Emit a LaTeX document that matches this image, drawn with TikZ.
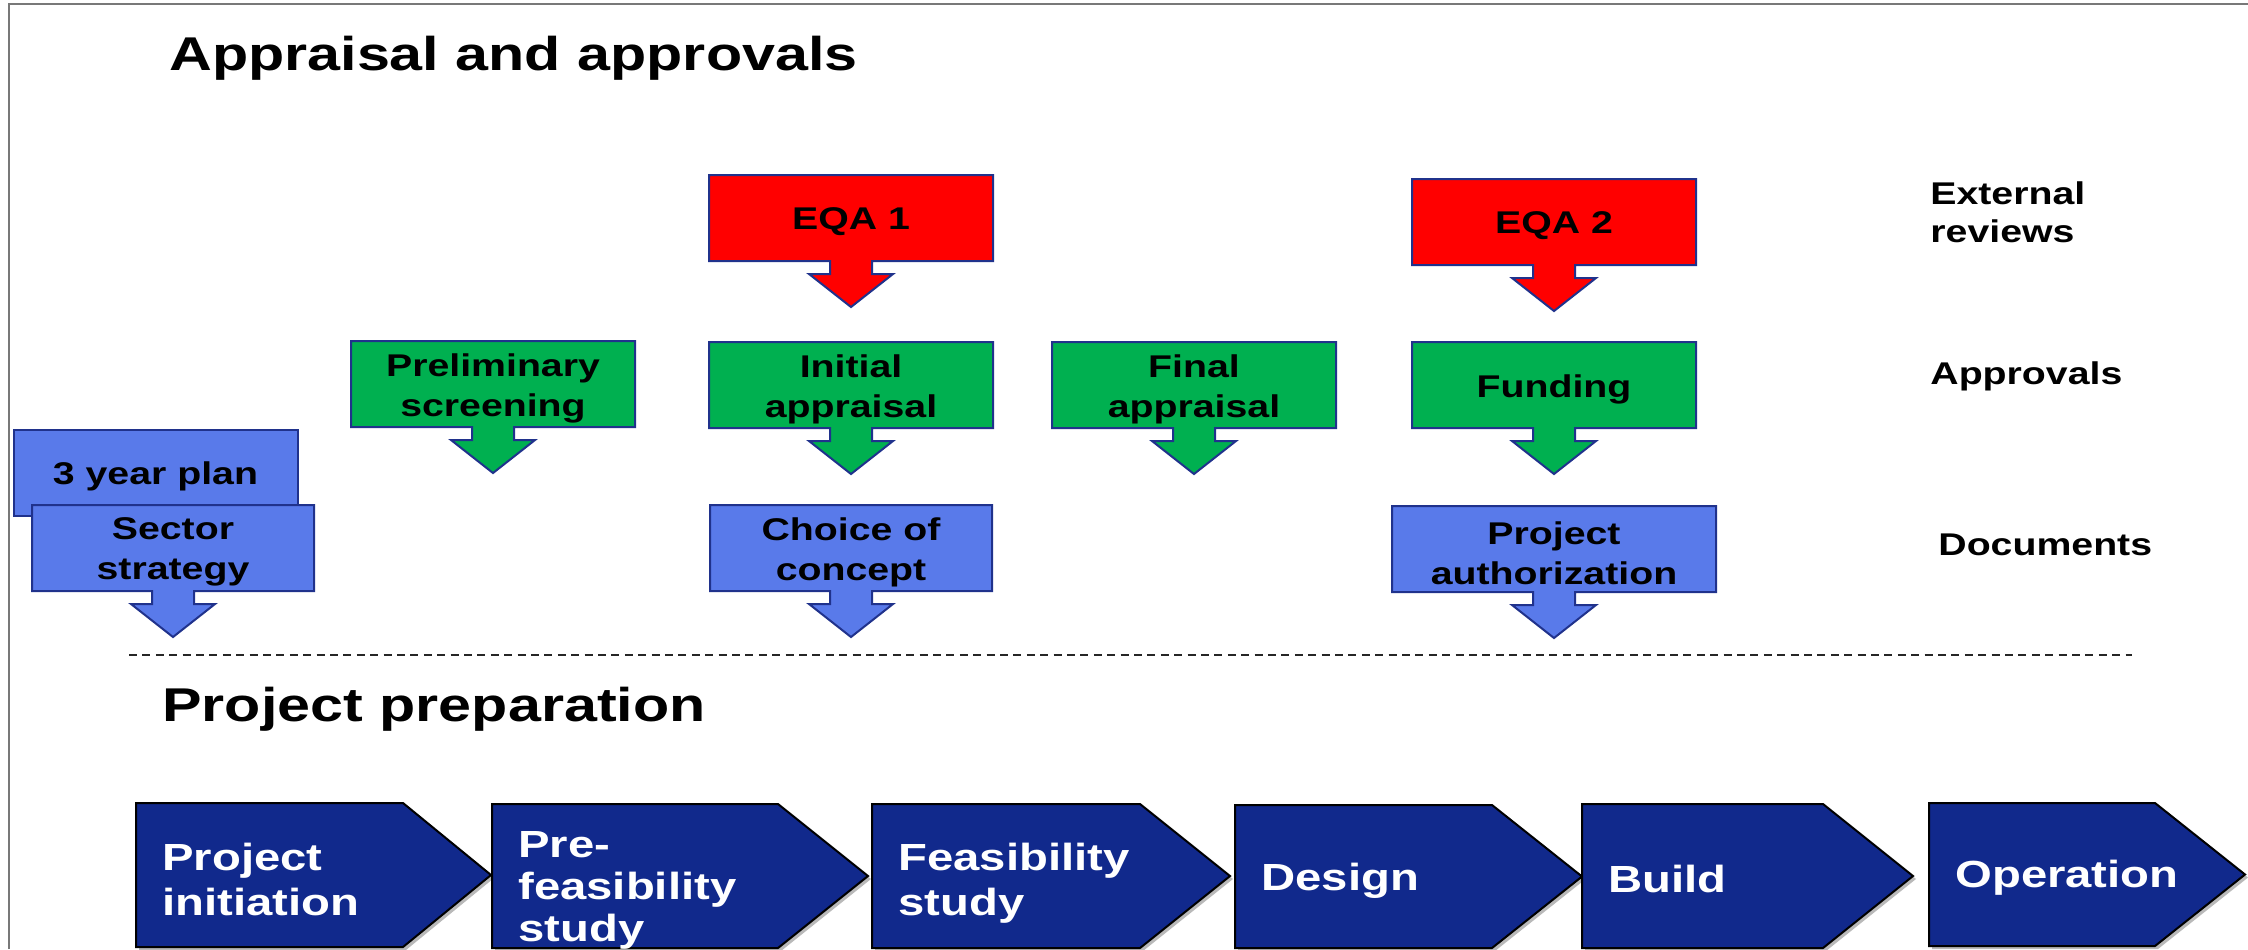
\documentclass[tikz,border=0pt]{standalone}
\usepackage{fontspec}
\setmainfont{Liberation Sans}[FakeStretch=1.25]
\usetikzlibrary{calc}
\definecolor{eqared}{RGB}{255,0,0}
\definecolor{apgreen}{RGB}{0,176,80}
\definecolor{docblue}{RGB}{89,122,234}
\definecolor{edgeblue}{RGB}{32,50,140}
\definecolor{chevblue}{RGB}{17,41,140}
\definecolor{framegray}{RGB}{120,120,120}
% box with a down arrow: name, cx, cy, half width, fill, text
\newcommand{\abox}[6]{%
  \filldraw[fill=#5, draw=edgeblue, line width=1pt, line join=miter]
    ({#2-#4},{#3-43}) -- ({#2+#4},{#3-43}) -- ({#2+#4},{#3+43})
    -- ({#2+21},{#3+43}) -- ({#2+21},{#3+56}) -- ({#2+42},{#3+56})
    -- (#2,{#3+89}) -- ({#2-42},{#3+56}) -- ({#2-21},{#3+56})
    -- ({#2-21},{#3+43}) -- ({#2-#4},{#3+43}) -- cycle;
  \node[boxtext] (#1) at (#2,{#3+4}) {#6};}
% chevron: name, left, rect right, tip, top, bottom, extra node options, text
\newcommand{\chevron}[8]{%
  \fill[gray!55] ({#2+3},{#5+3}) -- ({#3+3},{#5+3}) -- ({#4+3},{(#5+#6)/2+3})
    -- ({#3+3},{#6+3}) -- ({#2+3},{#6+3}) -- cycle;
  \filldraw[chev] (#2,#5) -- (#3,#5) -- (#4,{(#5+#6)/2}) -- (#3,#6) -- (#2,#6) -- cycle;
  \node[chevtext, #7] (#1) at ({#2+26},{(#5+#6)/2}) {#8};}
\begin{document}
\begin{tikzpicture}[x=0.5pt,y=-0.5pt,
  boxtext/.style={inner sep=0pt, align=center, text=black,
    font=\fontsize{15.7}{20}\selectfont\bfseries},
  lbl/.style={inner sep=0pt, align=left, anchor=west,
    font=\fontsize{15.7}{19}\selectfont\bfseries},
  ttl/.style={inner sep=0pt, anchor=base west,
    font=\fontsize{23.7}{28}\selectfont\bfseries},
  chev/.style={fill=chevblue, draw=black, line width=1pt, line join=miter},
  chevtext/.style={inner sep=0pt, align=left, anchor=west, text=white,
    font=\fontsize{18.9}{22.5}\selectfont\bfseries}]
\useasboundingbox (0,0) rectangle (2248,949);
\fill[white] (0,0) rectangle (2248,949);
% frame
\coordinate (fbl) at (9,949);
\coordinate (ftl) at (9,4);
\coordinate (ftr) at (2248,4);
\draw[framegray, line width=1.2pt] (fbl) -- (ftl) -- (ftr);
% titles
\node[ttl] (t1) at (169,70) {Appraisal and approvals};
\node[ttl] (t2) at (162,721) {Project preparation};
% right labels
\node[lbl] (lext) at (1930,212) {External\\reviews};
\node[lbl] (lapp) at (1930,376) {Approvals};
\node[lbl] (ldoc) at (1938,545) {Documents};
% external reviews
\abox{eqa1}{851}{218}{142}{eqared}{EQA 1}
\abox{eqa2}{1554}{222}{142}{eqared}{EQA 2}
% approvals
\abox{prelim}{493}{384}{142}{apgreen}{Preliminary\\screening}
\abox{initial}{851}{385}{142}{apgreen}{Initial\\appraisal}
\abox{final}{1194}{385}{142}{apgreen}{Final\\appraisal}
\abox{funding}{1554}{385}{142}{apgreen}{Funding}
% documents
\node[boxtext, fill=docblue, draw=edgeblue, line width=1pt,
  minimum width=142pt, minimum height=43pt, text depth=0pt] (plan) at (155.5,473) {3 year plan};
\abox{sector}{173}{548}{141}{docblue}{Sector\\strategy}
\abox{concept}{851}{548}{141}{docblue}{Choice of\\concept}
\abox{auth}{1554}{549}{162}{docblue}{Project\\authorization}
% dashed separator
\coordinate (dl) at (129,655);
\coordinate (dr) at (2132,655);
\draw[black!85, line width=0.75pt, dash pattern=on 4pt off 2.7pt] (dl) -- (dr);
% project phases
\chevron{c1}{136}{403}{491}{803}{947}{yshift=-2pt}{Project\\initiation}
\chevron{c2}{492}{778}{868}{804}{948}{yshift=-7pt, font=\fontsize{18.9}{21}\selectfont\bfseries}{Pre-\\feasibility\\study}
\chevron{c3}{872}{1140}{1230}{804}{948}{yshift=-3.5pt}{Feasibility\\study}
\chevron{c4}{1235}{1492}{1582}{805}{948}{yshift=-2pt}{Design}
\chevron{c5}{1582}{1823}{1913}{804}{948}{yshift=-1.5pt}{Build}
\chevron{c6}{1929}{2155}{2245}{803}{946}{yshift=-1.5pt}{Operation}
\end{tikzpicture}
\end{document}
